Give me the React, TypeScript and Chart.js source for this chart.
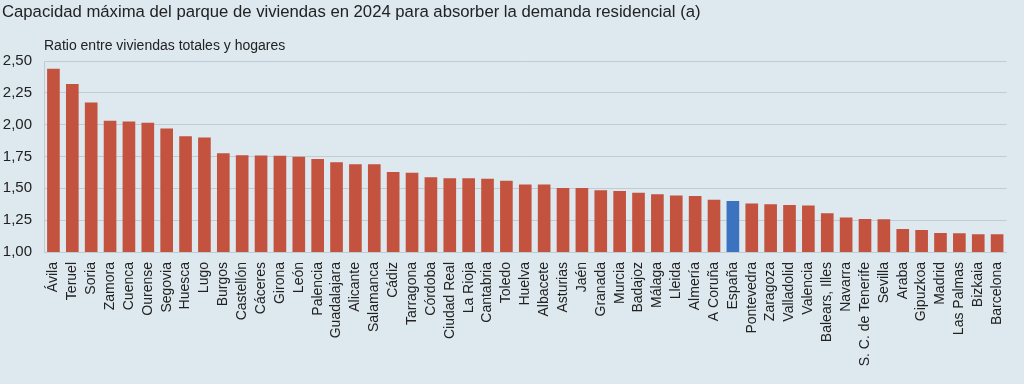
import React, { useEffect, useRef } from "react";
import { Chart, registerables } from "chart.js";

Chart.register(...registerables);

const TITLE = "Capacidad máxima del parque de viviendas en 2024 para absorber la demanda residencial (a)";
const SUBTITLE = "Ratio entre viviendas totales y hogares";

const categories: string[] = [
  "Ávila", "Teruel", "Soria", "Zamora", "Cuenca", "Ourense", "Segovia", "Huesca", "Lugo", "Burgos",
  "Castellón", "Cáceres", "Girona", "León", "Palencia", "Guadalajara", "Alicante", "Salamanca", "Cádiz", "Tarragona",
  "Córdoba", "Ciudad Real", "La Rioja", "Cantabria", "Toledo", "Huelva", "Albacete", "Asturias", "Jaén", "Granada",
  "Murcia", "Badajoz", "Málaga", "Lleida", "Almería", "A Coruña", "España", "Pontevedra", "Zaragoza", "Valladolid",
  "Valencia", "Balears, Illes", "Navarra", "S. C. de Tenerife", "Sevilla", "Araba", "Gipuzkoa", "Madrid", "Las Palmas", "Bizkaia",
  "Barcelona",
];

const ratios: number[] = [
  2.44, 2.32, 2.175, 2.03, 2.025, 2.015, 1.97, 1.91, 1.90, 1.775,
  1.76, 1.757, 1.755, 1.748, 1.73, 1.705, 1.69, 1.69, 1.628, 1.623,
  1.587, 1.58, 1.58, 1.575, 1.56, 1.53, 1.53, 1.503, 1.503, 1.485,
  1.48, 1.466, 1.453, 1.443, 1.44, 1.41, 1.40, 1.38, 1.375, 1.37,
  1.365, 1.305, 1.27, 1.26, 1.257, 1.18, 1.173, 1.15, 1.147, 1.14,
  1.14,
];

const highlighted = "España";
const yTicks: number[] = [1.0, 1.25, 1.5, 1.75, 2.0, 2.25, 2.5];

const BG = "#dde8ef";
const RED = "#c3523e";
const BLUE = "#3b73c0";
const GRID = "#c2cbd2";
const TEXT = "#222222";
const FONT = "'Liberation Sans', Arial, Helvetica, sans-serif";

export default function App() {
  const ref = useRef<HTMLCanvasElement | null>(null);

  useEffect(() => {
    document.body.style.margin = "0";
    const canvas = ref.current;
    if (!canvas) return;

    const textPlugin = {
      id: "texts",
      beforeDraw(chart: any) {
        const ctx = chart.ctx;
        ctx.save();
        ctx.fillStyle = BG;
        ctx.fillRect(0, 0, chart.width, chart.height);
        ctx.restore();
      },
      afterDraw(chart: any) {
        const ctx = chart.ctx;
        ctx.save();
        ctx.fillStyle = TEXT;
        ctx.textBaseline = "middle";
        ctx.textAlign = "left";
        ctx.font = `16.7px ${FONT}`;
        ctx.fillText(TITLE, 2, 12);
        ctx.font = `14px ${FONT}`;
        ctx.fillText(SUBTITLE, chart.chartArea.left, 46);
        ctx.restore();
      },
    };

    const chart = new Chart(canvas, {
      type: "bar",
      data: {
        labels: categories,
        datasets: [
          {
            data: ratios,
            backgroundColor: categories.map((c) => (c === highlighted ? BLUE : RED)),
            borderWidth: 0,
            categoryPercentage: 0.67,
            barPercentage: 1,
          },
        ],
      },
      options: {
        animation: false,
        responsive: false,
        maintainAspectRatio: false,
        layout: { padding: { top: 61, right: 9, left: 0, bottom: 0 } },
        plugins: {
          legend: { display: false },
          tooltip: { enabled: false },
          title: { display: false },
        },
        scales: {
          x: {
            grid: { display: false, drawTicks: false },
            border: { display: true, color: GRID, width: 1 },
            ticks: {
              autoSkip: false,
              maxRotation: 90,
              minRotation: 90,
              padding: 10,
              color: TEXT,
              font: { family: FONT, size: 14 },
            },
            afterFit(scale: any) {
              scale.height = 132;
            },
          },
          y: {
            min: 1,
            max: 2.5,
            afterBuildTicks(scale: any) {
              scale.ticks = yTicks.map((v) => ({ value: v }));
            },
            grid: { color: GRID, lineWidth: 1, drawTicks: false },
            border: { display: true, color: GRID, width: 1 },
            ticks: {
              padding: 12,
              color: TEXT,
              font: { family: FONT, size: 15 },
              callback: (v: any) => Number(v).toFixed(2).replace(".", ","),
            },
            afterFit(scale: any) {
              scale.width = 44;
            },
          },
        },
      },
      plugins: [textPlugin],
    });

    return () => chart.destroy();
  }, []);

  return (
    <div style={{ width: 1024, height: 384, background: BG }}>
      <canvas ref={ref} width={1024} height={384} style={{ display: "block" }} />
    </div>
  );
}
